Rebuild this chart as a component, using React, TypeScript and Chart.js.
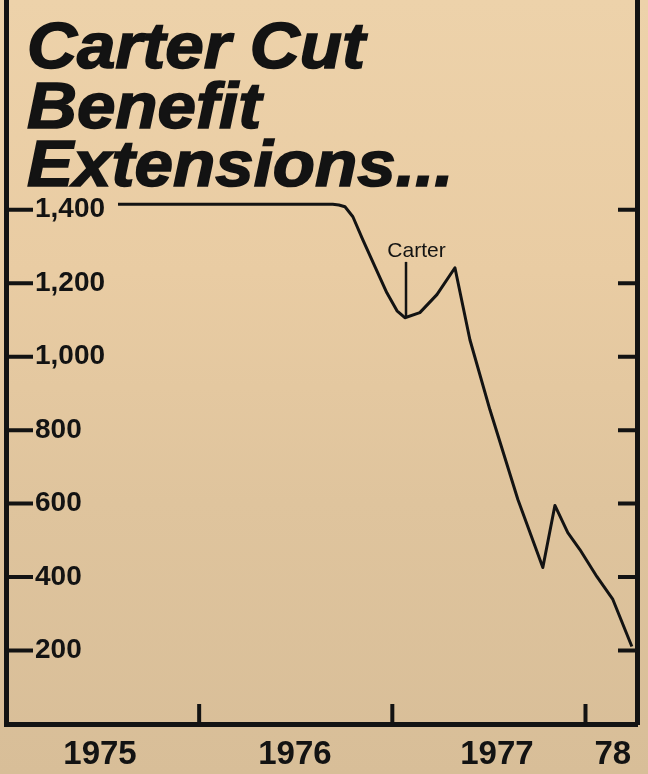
import React, { useEffect, useRef } from 'react';
import { Chart, registerables } from 'chart.js';

Chart.register(...registerables);

// ---- data ----
const titleLines = ['Carter Cut', 'Benefit', 'Extensions...'];

// months counted from January 1975
const lineMonths = [6.96, 20.3, 20.68, 21.06, 21.55, 22.17, 22.92, 23.66, 24.29, 24.78, 25.71, 26.77, 27.89, 28.82, 30.06, 31.8, 33.35, 34.1, 34.9, 35.65, 36.71, 37.7, 38.88];
const lineValues = [1415, 1415, 1413, 1408, 1381, 1318, 1245, 1174, 1125, 1106, 1120, 1169, 1242, 1046, 856, 611, 426, 595, 521, 475, 401, 339, 211];

const yTickValues = [200, 400, 600, 800, 1000, 1200, 1400];
const yTickLabels = ['200', '400', '600', '800', '1,000', '1,200', '1,400'];

const xLabelMonths = [5.84, 17.95, 30.5, 37.7];
const xLabelTexts = ['1975', '1976', '1977', '78'];
const xTickMarkMonths = [12, 24, 36];

const annotationText = 'Carter';
const annotationLineMonth = 24.85;
const annotationLineValues = [1258, 1106];
const annotationLabelMonth = 25.5;
const annotationLabelValue = 1272;

const X_MIN = 0;
const X_MAX = 39.2;
const Y_MIN = 0;
const Y_MAX = 1971;

const INK = '#131313';

const marksPlugin = {
  id: 'marks',
  afterDraw(chart: any) {
    const { ctx, chartArea: a, scales } = chart;
    const xs = scales.x;
    const ys = scales.y;
    ctx.save();
    ctx.strokeStyle = INK;
    ctx.lineWidth = 4;
    ctx.lineCap = 'butt';
    yTickValues.forEach((v) => {
      const py = ys.getPixelForValue(v);
      ctx.beginPath();
      ctx.moveTo(a.left, py);
      ctx.lineTo(a.left + 27, py);
      ctx.moveTo(a.right - 19, py);
      ctx.lineTo(a.right, py);
      ctx.stroke();
    });
    xTickMarkMonths.forEach((m) => {
      const px = xs.getPixelForValue(m);
      ctx.beginPath();
      ctx.moveTo(px, a.bottom);
      ctx.lineTo(px, a.bottom - 20);
      ctx.stroke();
    });
    // annotation
    const cx = xs.getPixelForValue(annotationLineMonth);
    ctx.lineWidth = 2.5;
    ctx.beginPath();
    ctx.moveTo(cx, ys.getPixelForValue(annotationLineValues[0]));
    ctx.lineTo(cx, ys.getPixelForValue(annotationLineValues[1]));
    ctx.stroke();
    ctx.font = '21px "Liberation Sans", Arial, sans-serif';
    ctx.fillStyle = INK;
    ctx.textAlign = 'center';
    ctx.textBaseline = 'alphabetic';
    ctx.fillText(annotationText, xs.getPixelForValue(annotationLabelMonth), ys.getPixelForValue(annotationLabelValue));
    ctx.restore();
  },
};

export default function App() {
  const canvasRef = useRef<HTMLCanvasElement | null>(null);

  useEffect(() => {
    document.body.style.margin = '0';
    const canvas = canvasRef.current;
    if (!canvas) return;
    const chart = new Chart(canvas, {
      type: 'line',
      data: {
        datasets: [
          {
            data: lineMonths.map((m, i) => ({ x: m, y: lineValues[i] })),
            borderColor: INK,
            borderWidth: 3,
            pointRadius: 0,
            tension: 0,
            fill: false,
            borderJoinStyle: 'round',
          },
        ],
      },
      options: {
        animation: false,
        responsive: false,
        layout: { padding: 0 },
        plugins: {
          legend: { display: false },
          tooltip: { enabled: false },
          title: { display: false },
        },
        scales: {
          x: {
            type: 'linear',
            min: X_MIN,
            max: X_MAX,
            grid: { display: false, drawTicks: false },
            border: { display: true, width: 5, color: INK },
            ticks: {
              padding: 11,
              color: INK,
              font: { family: "'Liberation Sans', Arial, sans-serif", weight: 'bold', size: 33 },
              maxRotation: 0,
              autoSkip: false,
              callback: (v: any) => {
                const i = xLabelMonths.indexOf(Number(v));
                return i >= 0 ? xLabelTexts[i] : '';
              },
            },
            afterBuildTicks: (s: any) => {
              s.ticks = xLabelMonths.map((v) => ({ value: v }));
            },
            afterFit: (s: any) => {
              s.height = 50;
              s.paddingLeft = 0;
              s.paddingRight = 0;
            },
          },
          y: {
            type: 'linear',
            position: 'left',
            min: Y_MIN,
            max: Y_MAX,
            grid: { display: false, drawTicks: false },
            border: { display: true, width: 5, color: INK },
            ticks: {
              mirror: true,
              padding: 29,
              color: INK,
              font: { family: "'Liberation Sans', Arial, sans-serif", weight: 'bold', size: 28 },
              autoSkip: false,
              callback: (v: any) => {
                const i = yTickValues.indexOf(Number(v));
                return i >= 0 ? yTickLabels[i] : '';
              },
            },
            afterBuildTicks: (s: any) => {
              s.ticks = yTickValues.map((v) => ({ value: v }));
            },
            afterFit: (s: any) => {
              s.width = 6;
              s.paddingTop = 0;
              s.paddingBottom = 0;
            },
          },
          y2: {
            type: 'linear',
            position: 'right',
            min: Y_MIN,
            max: Y_MAX,
            grid: { display: false, drawTicks: false },
            border: { display: true, width: 5, color: INK },
            ticks: { display: false },
            afterFit: (s: any) => {
              s.width = 11;
              s.paddingTop = 0;
              s.paddingBottom = 0;
            },
          },
        },
      },
      plugins: [marksPlugin],
    } as any);
    return () => chart.destroy();
  }, []);

  const titleTops = [14, 74, 132];

  return (
    <div
      style={{
        position: 'relative',
        width: 648,
        height: 774,
        overflow: 'hidden',
        background: 'linear-gradient(180deg, #edd2aa 0%, #e9cca3 35%, #dfc49d 65%, #d8be98 100%)',
      }}
    >
      <canvas ref={canvasRef} width={648} height={774} style={{ position: 'absolute', left: 0, top: 0, width: 648, height: 774 }} />
      {titleLines.map((t, i) => (
        <div
          key={i}
          style={{
            position: 'absolute',
            left: 27,
            top: titleTops[i],
            fontFamily: "'Liberation Sans', Arial, sans-serif",
            fontWeight: 700,
            fontStyle: 'italic',
            fontSize: 64,
            lineHeight: '64px',
            color: INK,
            WebkitTextStroke: `1.6px ${INK}`,
            whiteSpace: 'nowrap',
            transform: 'scaleX(1.08)',
            transformOrigin: 'left center',
            pointerEvents: 'none',
          }}
        >
          {t}
        </div>
      ))}
    </div>
  );
}
